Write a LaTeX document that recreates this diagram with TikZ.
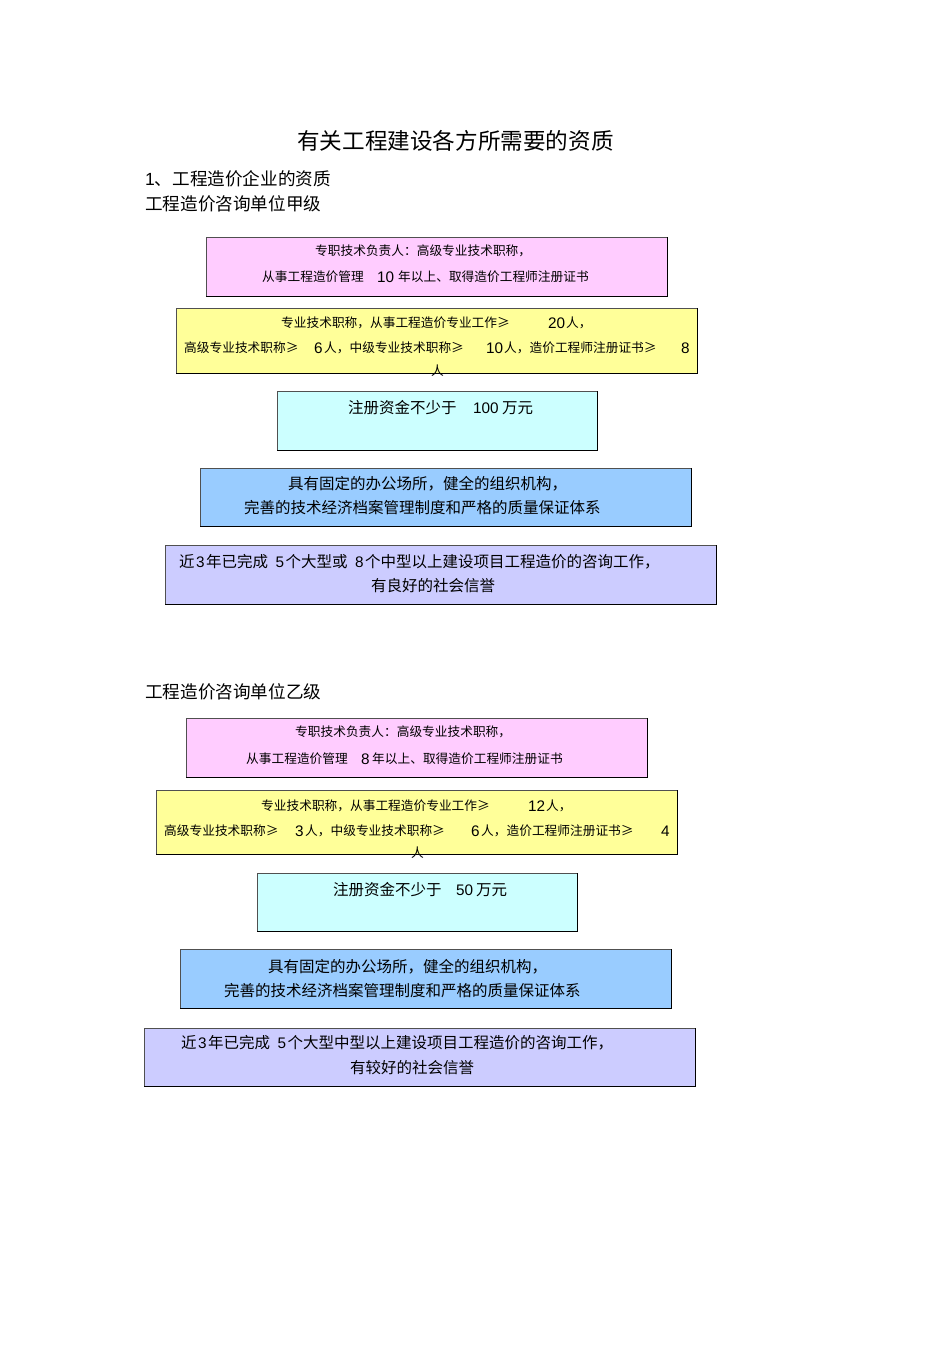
\documentclass[tikz,border=0pt]{standalone}
\usepackage{fontspec}
\setmainfont{Noto Sans CJK SC}
\newfontfamily\lat{Liberation Sans}
\definecolor{cpink}{HTML}{FFCCFF}
\definecolor{cyel}{HTML}{FFFF99}
\definecolor{ccyan}{HTML}{CCFFFF}
\definecolor{cblue}{HTML}{99CCFF}
\definecolor{clav}{HTML}{CCCCFF}
\definecolor{cline}{HTML}{505050}
\newcommand{\dg}[1]{\hspace{1.5pt}{\lat\fontsize{15.3}{17}\selectfont #1}\hspace{1.5pt}}
\tikzset{
  box/.style={draw=cline, line width=0.7pt, inner sep=0pt, anchor=north west},
  shade line/.style={draw=black, line width=1.1pt},
  txt/.style={inner sep=0pt, anchor=west, text=black},
  small/.style={txt, font=\fontsize{12.7}{14}\selectfont},
  mid/.style={txt, font=\fontsize{15.5}{18}\selectfont},
  big/.style={txt, font=\fontsize{17.6}{20}\selectfont},
  ttl/.style={txt, font=\fontsize{22.6}{26}\selectfont},
  num/.style={txt, font=\lat\fontsize{15.3}{17}\selectfont},
}
\begin{document}
\begin{tikzpicture}[x=1pt,y=-1pt]
\useasboundingbox (0,0) rectangle (950,1345);
% headings
\node[ttl] (title) at (297,141) {有关工程建设各方所需要的资质};
\node[big] (h1) at (145,179) {{\lat 1}、工程造价企业的资质};
\node[big] (h2) at (145,204) {工程造价咨询单位甲级};
\node[big] (h3) at (145,692) {工程造价咨询单位乙级};

% ===== section 1 =====
\node[box, fill=cpink, minimum width=461pt, minimum height=59pt] (pA) at (206,237) {};
\draw[shade line] (pA.north east) -- (pA.south east) -- (pA.south west);
\node[small] (pA1) at (315,251) {专职技术负责人：高级专业技术职称，};
\node[small] (pA2) at (262,277) {从事工程造价管理};
\node[num] (pA3) at (377,277) {10};
\node[small] (pA4) at (398,277) {年以上、取得造价工程师注册证书};

\node[box, fill=cyel, minimum width=521pt, minimum height=65pt] (yA) at (176,308) {};
\draw[shade line] (yA.north east) -- (yA.south east) -- (yA.south west);
\node[small] (yA1) at (281,323) {专业技术职称，从事工程造价专业工作≥};
\node[num] (yA2) at (548,323) {20};
\node[small] (yA3) at (566,323) {人，};
\node[small] (yA4) at (184,348) {高级专业技术职称≥};
\node[num] (yA5) at (314,348) {6};
\node[small] (yA6) at (324,348) {人，中级专业技术职称≥};
\node[num] (yA7) at (486,348) {10};
\node[small] (yA8) at (504,348) {人，造价工程师注册证书≥};
\node[num] (yA9) at (681,348) {8};
\node[small] (yA10) at (431,371) {人};

\node[box, fill=ccyan, minimum width=320pt, minimum height=59pt] (cA) at (277,391) {};
\draw[shade line, line width=0.9pt] (cA.north east) -- (cA.south east) -- (cA.south west);
\node[mid] (cA1) at (348,408) {注册资金不少于};
\node[num] (cA2) at (473,408) {100};
\node[mid] (cA3) at (502,408) {万元};

\node[box, fill=cblue, minimum width=491pt, minimum height=58pt] (bA) at (200,468) {};
\draw[shade line] (bA.north east) -- (bA.south east) -- (bA.south west);
\node[mid] (bA1) at (288,484) {具有固定的办公场所，健全的组织机构，};
\node[mid] (bA2) at (244,508) {完善的技术经济档案管理制度和严格的质量保证体系};

\node[box, fill=clav, minimum width=551pt, minimum height=59pt] (lA) at (165,545) {};
\draw[shade line] (lA.north east) -- (lA.south east) -- (lA.south west);
\node[mid] (lA1) at (179,562) {近\dg{3}年已完成\hspace{6pt}\dg{5}个大型或\hspace{6pt}\dg{8}个中型以上建设项目工程造价的咨询工作，};
\node[mid] (lA2) at (371,586) {有良好的社会信誉};

% ===== section 2 =====
\node[box, fill=cpink, minimum width=461pt, minimum height=59pt] (pB) at (186,718) {};
\draw[shade line] (pB.north east) -- (pB.south east) -- (pB.south west);
\node[small] (pB1) at (295,732) {专职技术负责人：高级专业技术职称，};
\node[small] (pB2) at (246,759) {从事工程造价管理};
\node[num] (pB3) at (361,759) {8};
\node[small] (pB4) at (372,759) {年以上、取得造价工程师注册证书};

\node[box, fill=cyel, minimum width=521pt, minimum height=64pt] (yB) at (156,790) {};
\draw[shade line] (yB.north east) -- (yB.south east) -- (yB.south west);
\node[small] (yB1) at (261,806) {专业技术职称，从事工程造价专业工作≥};
\node[num] (yB2) at (528,806) {12};
\node[small] (yB3) at (546,806) {人，};
\node[small] (yB4) at (164,831) {高级专业技术职称≥};
\node[num] (yB5) at (295,831) {3};
\node[small] (yB6) at (305,831) {人，中级专业技术职称≥};
\node[num] (yB7) at (471,831) {6};
\node[small] (yB8) at (481,831) {人，造价工程师注册证书≥};
\node[num] (yB9) at (661,831) {4};
\node[small] (yB10) at (411,853) {人};

\node[box, fill=ccyan, minimum width=320pt, minimum height=58pt] (cB) at (257,873) {};
\draw[shade line, line width=0.9pt] (cB.north east) -- (cB.south east) -- (cB.south west);
\node[mid] (cB1) at (333,890) {注册资金不少于};
\node[num] (cB2) at (456,890) {50};
\node[mid] (cB3) at (476,890) {万元};

\node[box, fill=cblue, minimum width=491pt, minimum height=59pt] (bB) at (180,949) {};
\draw[shade line] (bB.north east) -- (bB.south east) -- (bB.south west);
\node[mid] (bB1) at (268,967) {具有固定的办公场所，健全的组织机构，};
\node[mid] (bB2) at (224,991) {完善的技术经济档案管理制度和严格的质量保证体系};

\node[box, fill=clav, minimum width=551pt, minimum height=58pt] (lB) at (144,1028) {};
\draw[shade line] (lB.north east) -- (lB.south east) -- (lB.south west);
\node[mid] (lB1) at (181,1043) {近\dg{3}年已完成\hspace{6pt}\dg{5}个大型中型以上建设项目工程造价的咨询工作，};
\node[mid] (lB2) at (350,1068) {有较好的社会信誉};
\end{tikzpicture}
\end{document}
